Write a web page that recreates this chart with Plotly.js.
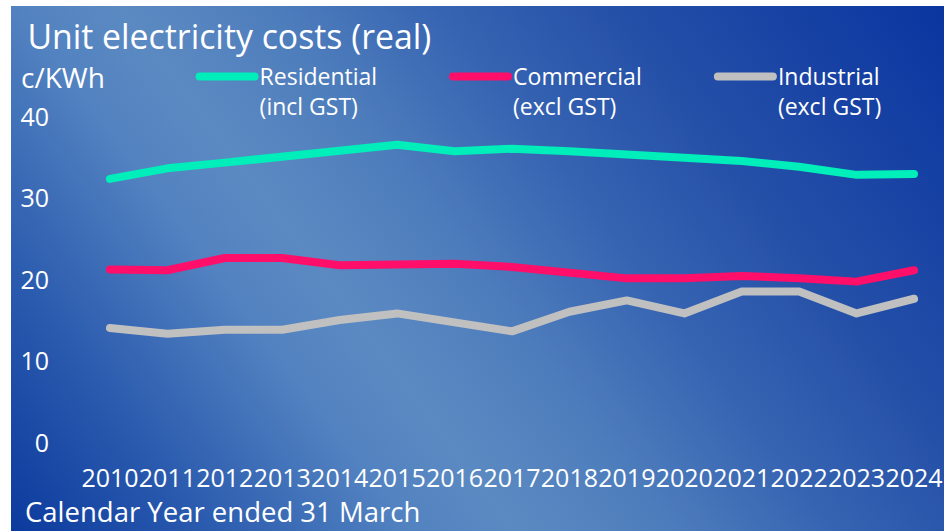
<!DOCTYPE html>
<html>
<head>
<meta charset="utf-8">
<script src="https://cdn.plot.ly/plotly-3.0.1.min.js"></script>
<style>
  html, body { margin: 0; padding: 0; background: #ffffff; }
  #bg { position: absolute; left: 11px; top: 6px; width: 933px; height: 525px;
        background: linear-gradient(53deg, #0b3a9e 0%, #2b5bae 15%, #5282c0 30%, #5b8ac2 38%, #4d7cbc 50%, #3664b2 62%, #2550a8 75%, #0a35a0 100%); }
  #chart { position: absolute; left: 0; top: 0; width: 944px; height: 531px; }
  #chart path.js-line { stroke-linecap: round; stroke-linejoin: round; }
</style>
</head>
<body>
<div id="bg"></div>
<div id="chart"></div>
<script>
const years = [2010, 2011, 2012, 2013, 2014, 2015, 2016, 2017, 2018, 2019, 2020, 2021, 2022, 2023, 2024];
const residential = [32.4, 33.7, 34.4, 35.1, 35.8, 36.6, 35.8, 36.1, 35.8, 35.4, 34.8, 34.6, 33.9, 32.9, 33.0];
const commercial  = [21.3, 21.2, 22.7, 22.7, 21.8, 22.0, 22.0, 21.6, 21.0, 20.2, 20.2, 20.5, 20.2, 19.8, 21.2];
const industrial  = [14.1, 13.4, 13.9, 13.9, 15.1, 15.9, 14.8, 13.7, 16.1, 17.5, 15.9, 18.6, 18.6, 15.9, 17.7];
const seriesNames = ['Residential<br>(incl GST)', 'Commercial<br>(excl GST)', 'Industrial<br>(excl GST)'];
const seriesColors = ['#00eeb9', '#ff0f69', '#c0c0c0'];
const yTicks = [0, 10, 20, 30, 40];

const FONT = 'Open Sans, sans-serif';
const values = [residential, commercial, industrial];
const legendIds = ['legend', 'legend2', 'legend3'];
const traces = values.map((v, i) => ({
  x: years, y: v, type: 'scatter', mode: 'lines', name: seriesNames[i],
  legend: legendIds[i],
  line: { color: seriesColors[i], width: 8 }
}));

function legendAt(xpos) {
  return { orientation: 'v', x: xpos, xanchor: 'left', y: 1.19, yanchor: 'top',
           bgcolor: 'rgba(0,0,0,0)', font: { family: FONT, size: 23, color: '#ffffff' },
           valign: 'top', itemwidth: 55 };
}

const layout = {
  width: 944, height: 531,
  paper_bgcolor: 'rgba(0,0,0,0)', plot_bgcolor: 'rgba(0,0,0,0)',
  margin: { l: 60, r: 10, t: 117, b: 88 },
  font: { family: FONT, color: '#ffffff', size: 25 },
  title: { text: 'Unit electricity costs (real)', x: 0.029, xanchor: 'left', xref: 'container',
           y: 0.93, yanchor: 'middle', yref: 'container',
           font: { family: FONT, size: 33.8, color: '#ffffff' } },
  showlegend: true,
  legend: legendAt(0.154),
  legend2: legendAt(0.444),
  legend3: legendAt(0.747),
  xaxis: { range: [2009.130, 2024.348], tickmode: 'array', tickvals: years,
           ticktext: years.map(String), tickangle: 0, ticklabeloverflow: 'allow',
           ticklabelstandoff: 18,
           showgrid: false, zeroline: false, showline: false,
           ticks: '', tickfont: { family: FONT, size: 25, color: '#ffffff' }, fixedrange: true },
  yaxis: { range: [0, 40], tickmode: 'array', tickvals: yTicks, ticktext: yTicks.map(String),
           showgrid: false, zeroline: false, showline: false, ticks: '',
           ticklabelstandoff: 10,
           tickfont: { family: FONT, size: 25, color: '#ffffff' }, fixedrange: true },
  annotations: [
    { text: 'c/KWh', xref: 'paper', yref: 'paper', x: -0.047, y: 1.123, xanchor: 'left', yanchor: 'middle',
      showarrow: false, font: { family: FONT, size: 28, color: '#ffffff' } },
    { text: 'Calendar Year ended 31 March', xref: 'paper', yref: 'paper', x: -0.042, y: -0.21,
      xanchor: 'left', yanchor: 'middle', showarrow: false,
      font: { family: FONT, size: 27.5, color: '#ffffff' } }
  ]
};

Plotly.newPlot('chart', traces, layout, { displayModeBar: false, staticPlot: true });
</script>
</body>
</html>
